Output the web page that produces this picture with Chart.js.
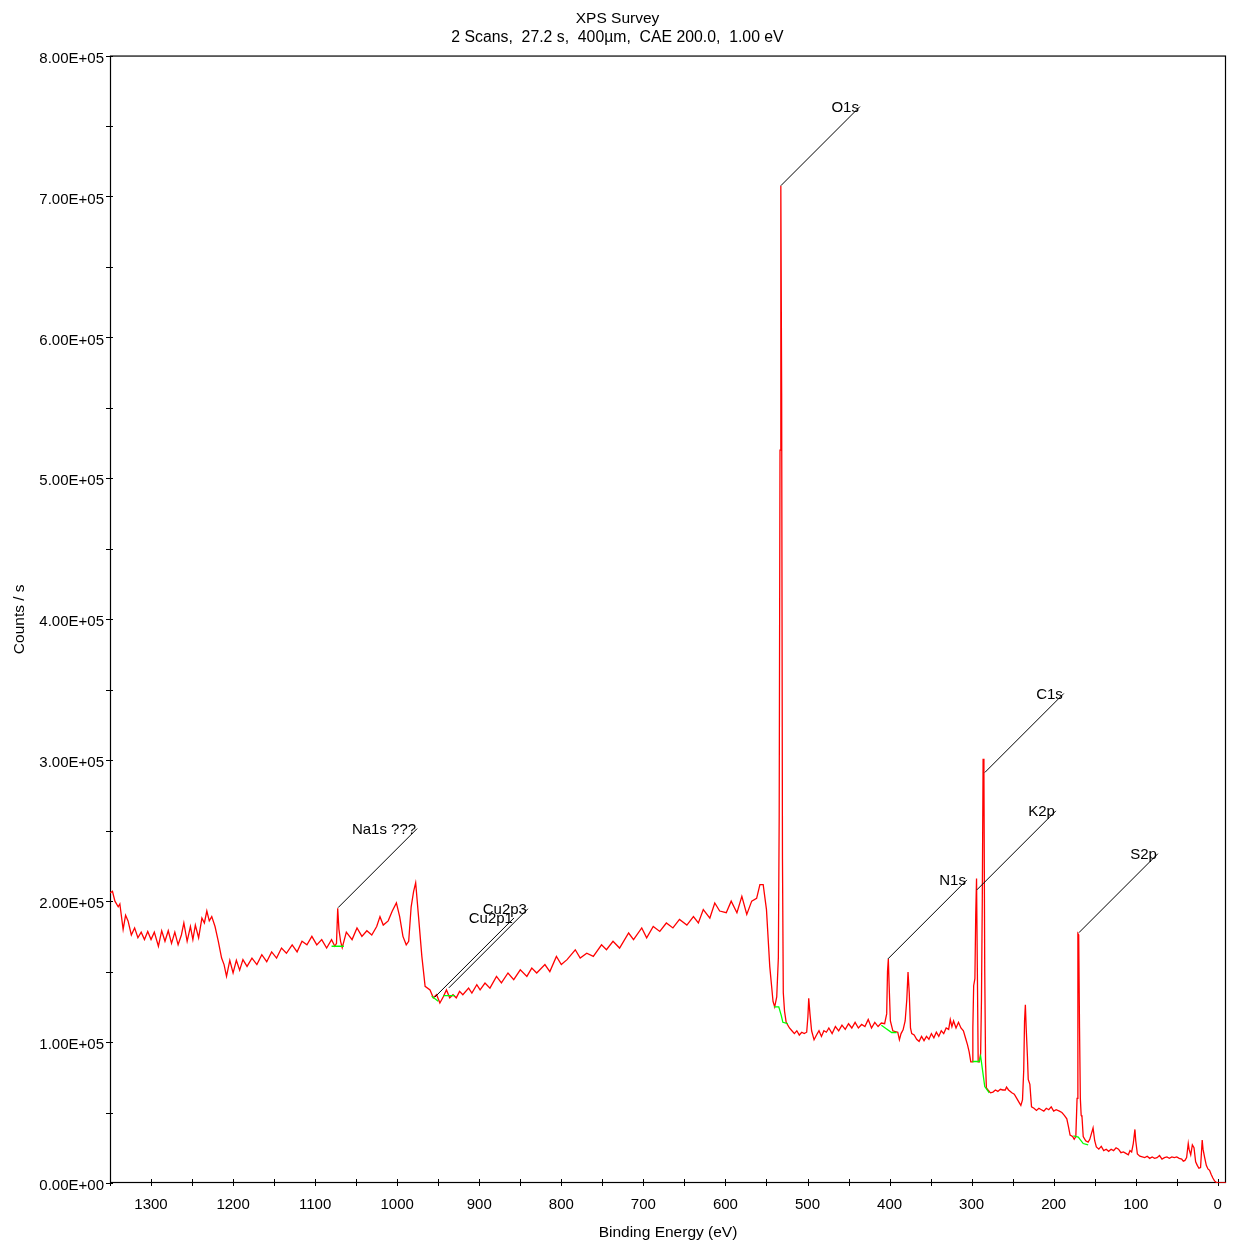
<!DOCTYPE html>
<html lang="en">
<head>
<meta charset="UTF-8">
<title>XPS Survey</title>
<script src="https://cdn.jsdelivr.net/npm/chart.js"></script>
<style>
  html, body { margin: 0; padding: 0; background: #fff; }
  #wrap { width: 1235px; height: 1247px; }
</style>
</head>
<body>
<div id="wrap"><canvas id="xps" width="1235" height="1247"></canvas></div>
<script>
// survey trace: binding energy (eV) and intensity (counts/s in thousands)
const traceBE = [
  1350, 1347, 1344, 1340, 1338, 1334, 1331, 1328, 1324, 1320,
  1316, 1312, 1308, 1304, 1300, 1296, 1291, 1287, 1283, 1279,
  1275, 1271, 1267, 1263, 1260, 1256, 1252, 1249, 1246, 1242,
  1238, 1235, 1232, 1229, 1226, 1222, 1218, 1214, 1211, 1208,
  1204, 1200, 1196, 1192, 1188, 1183, 1177, 1171, 1165, 1159,
  1153, 1147, 1141, 1135, 1128, 1122, 1116, 1110, 1104, 1098,
  1092, 1086, 1080, 1076, 1074, 1072.5, 1071, 1069, 1067, 1062,
  1055, 1049, 1043, 1037, 1031, 1025, 1021, 1017, 1011, 1006,
  1001, 997, 993, 989, 986, 983, 980, 977.5, 974, 970,
  966, 960, 956, 952, 948, 944, 940, 936, 932, 928,
  924, 920, 913, 909, 903, 899, 893, 887, 879, 873,
  865, 858, 850, 842, 836, 830, 820, 814, 806, 800,
  793, 783, 777, 769, 761, 751, 745, 737, 729, 718,
  712, 702, 696, 688, 680, 672, 664, 656, 647, 639,
  633, 627, 619, 613, 607, 599, 593, 586, 580, 574,
  568, 562, 558, 554, 550, 546, 542, 540, 537.5, 535.5,
  534.5, 533.5, 532.5, 531.5, 530.5, 529.5, 528, 526, 522, 519,
  516, 513, 510, 507, 504, 501, 499.5, 498.5, 497, 495,
  492, 489, 486, 483, 480, 477, 474, 470, 466, 462,
  458, 454, 450, 446, 442, 438, 434, 430, 426, 422,
  418, 414, 410, 406, 403.5, 402.5, 401.5, 400.5, 399, 396,
  393, 390, 388, 386, 383.5, 381, 379, 377.5, 376, 374.5,
  373, 370, 367, 364, 361, 358, 355, 352, 349, 346,
  343, 340, 337, 334, 331, 328, 326, 324, 322, 319,
  316, 313, 310, 307, 305, 303, 301, 299.5, 298.5, 297.5,
  296, 295, 294, 293, 292, 290.5, 289, 288, 287, 286,
  285, 284, 283, 282, 280, 277, 274, 271, 268, 265,
  262, 259, 257.5, 255, 251, 248, 245, 242, 240, 238,
  236.5, 235.5, 234.5, 233.5, 232, 231, 229, 227, 224, 221,
  218, 215, 212, 209, 206, 203, 200, 197, 193, 190,
  187, 184, 182, 180, 177, 175, 173, 171.5, 170.5, 169.5,
  168.5, 167.5, 166.5, 165.5, 164, 161, 158, 156, 154, 152,
  150, 148, 145, 142, 139, 136, 133, 130, 127, 124,
  121, 118, 115, 112, 109, 107, 105, 103, 101, 100,
  98, 95, 92, 89, 86, 83, 80, 77, 74, 71,
  68, 65, 62, 59, 56, 53, 50, 47, 44, 42,
  40, 38, 36, 35, 33, 31, 29, 27, 25, 23,
  21, 19, 18, 16, 14, 12, 10, 8, 6, 4,
  2, 0, -10
];
const traceK = [
  205.8, 207, 200, 196, 198, 180, 190, 186, 176, 181,
  174, 178, 172.7, 178.5, 172.7, 178, 168, 179, 171.5, 179,
  170, 178, 169, 176, 184.5, 171.5, 182, 172.7, 183, 174,
  188, 184.5, 193, 186, 189, 182, 171.5, 159.6, 155, 146.6,
  158, 149, 158, 151, 158.5, 153.7, 159.6, 155, 162, 157,
  164, 159.6, 166.7, 163, 169, 164, 171.5, 169, 175, 169,
  172.7, 166.7, 172.7, 168, 170, 195, 180, 171.5, 167, 178,
  172.7, 181, 175, 179, 176, 182, 189, 183, 186, 193,
  198.7, 189, 175, 169, 171.5, 196, 207, 213, 189, 161,
  139.5, 137, 131.4, 133.6, 127.7, 132, 137, 131.4, 133.6, 131.4,
  136, 133.6, 138.3, 134.8, 140.7, 137, 141.9, 138.3, 146.6, 142,
  149, 144.3, 151.3, 146.6, 152.5, 149, 155, 150, 160.8, 155,
  158.5, 165.5, 159.6, 163, 160.8, 169, 165.5, 171.5, 166.7, 177.4,
  172.7, 181, 174, 182, 178.5, 184.5, 181, 187, 183, 189,
  184.5, 194, 188, 198.7, 193, 191.8, 200, 191.8, 203.4, 190.6,
  200, 202, 211.7, 211.7, 194, 153.7, 128.8, 125, 132, 160,
  260, 520, 707.7, 560, 230, 135, 122, 114, 110, 108,
  106, 108, 105, 107, 106, 107, 118, 131, 120, 108,
  101.6, 105, 108, 104, 108, 107, 110, 106, 111, 108,
  112, 109, 113, 110, 114, 110, 112.5, 111, 116, 110,
  114, 111, 113.5, 113, 120, 150, 159, 140, 115, 108,
  107.5, 107, 101.6, 106, 108.7, 115, 130, 149.7, 135, 110,
  106, 105, 102, 100.5, 104, 101, 104, 102, 106, 103,
  107, 104, 108, 106, 110, 109, 116, 111, 115, 110,
  114, 110, 108, 102, 98, 93, 86, 86, 110, 140,
  145, 190, 216, 150, 86, 86, 92, 130, 200, 301,
  290, 150, 85, 67.5, 66, 64, 64.5, 66, 65, 66.5,
  66, 66, 68, 66, 64, 63, 60, 57, 55, 59,
  80, 115, 126.5, 110, 90, 73.5, 70, 54, 53, 51.5,
  53, 52, 51, 53, 52, 54, 51, 52, 51, 50,
  48, 45.5, 40, 34, 33, 31, 33, 60, 177, 176,
  110, 60, 48, 47, 33, 30, 29, 31, 35, 39,
  30, 25.6, 24, 26, 23, 24, 22.5, 24, 23, 25,
  24, 21.5, 22, 21, 20, 23, 22, 28, 38, 30,
  20.6, 19, 18.5, 18, 19, 17.5, 18.5, 17.5, 18, 19.5,
  17, 18, 18.5, 17.5, 18.5, 18, 18.5, 17.5, 17, 15.5,
  16, 18, 28, 24, 20, 27, 25, 15, 12.5, 10.5,
  11, 30.5, 24, 18, 12.5, 10, 9, 6, 3.5, 1.5,
  0.5, 0, 0
];

// background fits under the quantified peaks (green)
const na1sBgBE = [1080, 1065];          const na1sBgK = [168, 168];
const cu2p1BgBE = [958, 950];           const cu2p1BgK = [132.5, 129];
const cu2p3BgBE = [944, 929.5];         const cu2p3BgK = [133, 133];
const o1sBgBE = [541, 535, 532, 530, 524];   const o1sBgK = [125, 125, 119, 114, 113];
const n1sBgBE = [410, 404, 397.5, 391.5];    const n1sBgK = [112, 109.5, 106.8, 106.8];
const c1sBgBE = [299, 291, 289, 284, 278.5]; const c1sBgK = [86.2, 86.2, 90, 68.4, 64];
const s2pBgBE = [176, 170, 164, 158];        const s2pBgK = [33.4, 32.5, 28, 27];

// peak labels and where their leader lines start
const peakNames = ['O1s', 'C1s', 'K2p', 'N1s', 'S2p', 'Na1s ???', 'Cu2p3', 'Cu2p1'];
const peakBE = [532.4, 283.9, 293.6, 402, 169.3, 1072, 937, 954];
const peakK = [707.7, 291.3, 208, 159, 177.6, 195.4, 138.5, 132];

const xTickValues = [1350, 1300, 1250, 1200, 1150, 1100, 1050, 1000, 950, 900, 850, 800, 750,
  700, 650, 600, 550, 500, 450, 400, 350, 300, 250, 200, 150, 100, 50, 0];
const yTickValues = [0, 50000, 100000, 150000, 200000, 250000, 300000, 350000, 400000,
  450000, 500000, 550000, 600000, 650000, 700000, 750000, 800000];

const FONT = "'Liberation Sans', Arial, sans-serif";
const tickFont = { family: FONT, size: 15, weight: 'normal' };
const titleFont = { family: FONT, size: 15.5, weight: 'normal' };

function toPoints(be, k) {
  return be.map((e, i) => ({ x: e, y: k[i] * 1000 }));
}

function sci(v) {
  if (v === 0) return '0.00E+00';
  const exp = Math.floor(Math.log10(Math.abs(v)));
  const mant = (v / Math.pow(10, exp)).toFixed(2);
  return mant + 'E' + (exp < 0 ? '-' : '+') + String(Math.abs(exp)).padStart(2, '0');
}

function bgSet(be, k) {
  return { data: toPoints(be, k), borderColor: '#00ff00', borderWidth: 1.3, pointRadius: 0, order: 0 };
}

// frame + ticks that cross the axis lines
const framePlugin = {
  id: 'frame',
  beforeDatasetsDraw(chart) {
    const { ctx, chartArea: a, scales: { x, y } } = chart;
    ctx.save();
    ctx.strokeStyle = '#000';
    ctx.lineWidth = 1.2;
    ctx.strokeRect(a.left + 0.5, a.top + 0.5, a.right - a.left - 1, a.bottom - a.top - 1);
    ctx.lineWidth = 1;
    ctx.beginPath();
    x.ticks.forEach(t => {
      const px = Math.round(x.getPixelForValue(t.value)) + 0.5;
      ctx.moveTo(px, a.bottom - 4);
      ctx.lineTo(px, a.bottom + 3);
    });
    y.ticks.forEach(t => {
      const py = Math.round(y.getPixelForValue(t.value)) + 0.5;
      ctx.moveTo(a.left - 4, py);
      ctx.lineTo(a.left + 3, py);
    });
    ctx.stroke();
    ctx.restore();
  }
};

// leader lines and peak names
const labelPlugin = {
  id: 'peakLabels',
  afterDatasetsDraw(chart) {
    const { ctx, scales: { x, y } } = chart;
    ctx.save();
    ctx.strokeStyle = '#000';
    ctx.fillStyle = '#000';
    ctx.lineWidth = 1;
    ctx.font = '15px ' + FONT;
    ctx.textAlign = 'right';
    ctx.textBaseline = 'middle';
    peakNames.forEach((name, i) => {
      const x0 = x.getPixelForValue(peakBE[i]);
      const y0 = y.getPixelForValue(peakK[i] * 1000);
      const x1 = x0 + 79, y1 = y0 - 79;
      ctx.beginPath();
      ctx.moveTo(x0, y0);
      ctx.lineTo(x1, y1);
      ctx.stroke();
      ctx.fillText(name, x1 - 1, y1 + 1);
    });
    ctx.restore();
  }
};

new Chart(document.getElementById('xps'), {
  type: 'line',
  data: {
    datasets: [
      bgSet(na1sBgBE, na1sBgK),
      bgSet(cu2p1BgBE, cu2p1BgK),
      bgSet(cu2p3BgBE, cu2p3BgK),
      bgSet(o1sBgBE, o1sBgK),
      bgSet(n1sBgBE, n1sBgK),
      bgSet(c1sBgBE, c1sBgK),
      bgSet(s2pBgBE, s2pBgK),
      {
        label: 'Survey',
        data: toPoints(traceBE, traceK),
        borderColor: '#ff0000',
        borderWidth: 1.3,
        pointRadius: 0,
        tension: 0,
        order: 1
      }
    ]
  },
  options: {
    responsive: false,
    animation: false,
    layout: { padding: 0 },
    plugins: {
      legend: { display: false },
      tooltip: { enabled: false },
      title: {
        display: true, text: 'XPS Survey', color: '#000', font: titleFont,
        padding: { top: 9, bottom: 1 }
      },
      subtitle: {
        display: true, text: '2 Scans,  27.2 s,  400µm,  CAE 200.0,  1.00 eV', color: '#000',
        font: { family: FONT, size: 15.8, weight: 'normal' },
        padding: { top: 0, bottom: 8 }
      }
    },
    scales: {
      x: {
        type: 'linear',
        reverse: true,
        min: -10,
        max: 1350,
        border: { display: false },
        grid: { display: false, drawTicks: true, tickLength: 4 },
        afterBuildTicks: s => { s.ticks = xTickValues.map(v => ({ value: v })); },
        afterFit: s => { s.height = 64; },
        ticks: {
          autoSkip: false, maxRotation: 0, color: '#000', font: tickFont, padding: 9,
          callback: v => (v % 100 === 0 ? String(v) : '')
        },
        title: {
          display: true, text: 'Binding Energy (eV)', color: '#000', font: titleFont,
          padding: { top: 0, bottom: 5 }
        }
      },
      y: {
        min: 0,
        max: 800000,
        border: { display: false },
        grid: { display: false, drawTicks: true, tickLength: 4 },
        afterBuildTicks: s => { s.ticks = yTickValues.map(v => ({ value: v })); },
        afterFit: s => { s.width = 110; },
        ticks: {
          autoSkip: false, color: '#000', font: tickFont, padding: 2, labelOffset: 3,
          callback: v => (v % 100000 === 0 ? sci(v) : '')
        },
        title: {
          display: true, text: 'Counts / s', color: '#000', font: titleFont,
          padding: { top: 10, bottom: 0 }
        }
      },
      // empty strip on the right so the plot ends where the reference does
      edge: {
        type: 'linear',
        position: 'right',
        display: true,
        border: { display: false },
        grid: { display: false, drawTicks: false },
        ticks: { display: false },
        afterFit: s => { s.width = 9; }
      }
    }
  },
  plugins: [framePlugin, labelPlugin]
});
</script>
</body>
</html>
